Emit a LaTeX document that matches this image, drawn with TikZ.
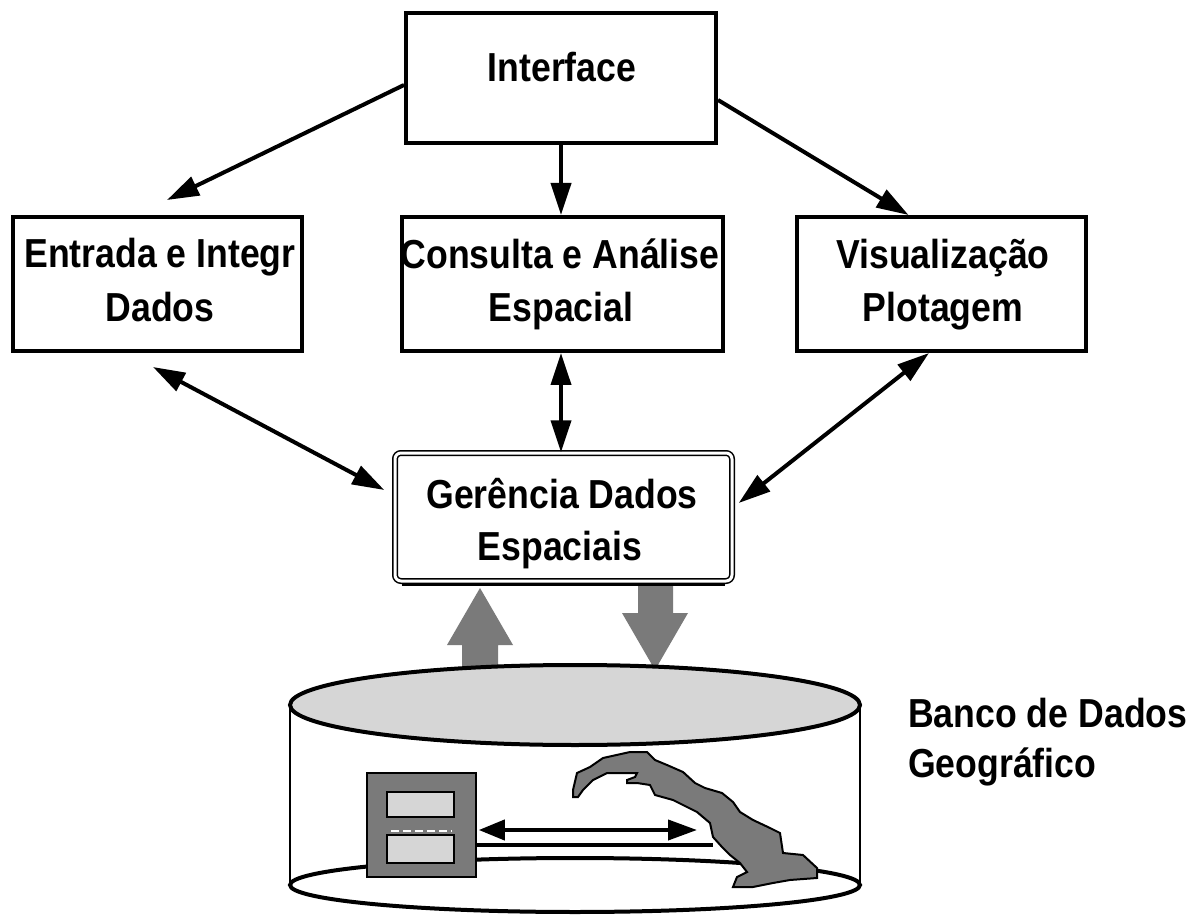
\documentclass[tikz,border=0pt]{standalone}
\usepackage{fontspec}
\newfontfamily\lblfont{Liberation Sans}[FakeStretch=0.88]
\usetikzlibrary{arrows.meta}
\begin{document}
\begin{tikzpicture}[x=1pt,y=-1pt,
  box/.style={draw,line width=4pt,inner sep=0pt},
  txt/.style={font=\lblfont\bfseries\fontsize{40.5}{53}\selectfont,anchor=base,inner sep=0pt},
  arr/.style={line width=4pt,-{Triangle[length=32pt,width=20pt]}},
  darr/.style={line width=4pt,{Triangle[length=32pt,width=20pt]}-{Triangle[length=32pt,width=20pt]}},
  darkfill/.style={fill=black!52},
  lightfill/.style={fill=black!16}]
\useasboundingbox (0,0) rectangle (1200,917);
\fill[white] (0,0) rectangle (1200,917);

% boxes
\node[box,minimum width=310pt,minimum height=130pt] (iface) at (561,78) {};
\node[box,minimum width=289pt,minimum height=134pt] (entrada) at (157.5,284) {};
\node[box,minimum width=321pt,minimum height=134pt] (consulta) at (562.5,284) {};
\node[box,minimum width=289pt,minimum height=134pt] (visu) at (941.5,284) {};
\node[draw,double=white,double distance=3pt,line width=1.5pt,rounded corners=6pt,
      minimum width=337pt,minimum height=128pt] (ger) at (563.5,517) {};
\draw[line width=3pt] ([xshift=8pt,yshift=-3pt]ger.south west) -- ([xshift=-8pt,yshift=-3pt]ger.south east);

% texts
\node[txt] (ifaceT) at (562,82) {Interface};
\node[txt] (entT1) at (160,268) {Entrada e Integr};
\node[txt] (entT2) at (160,322) {Dados};
\node[txt] (conT1) at (560,269) {Consulta e Análise};
\node[txt] (conT2) at (561,322) {Espacial};
\node[txt] (visT1) at (943,269) {Visualização};
\node[txt] (visT2) at (943,322) {Plotagem};
\node[txt] (gerT1) at (562,508) {Gerência Dados};
\node[txt] (gerT2) at (560,560) {Espaciais};
\node[txt,anchor=base west] (bdT1) at (908,727) {Banco de Dados};
\node[txt,anchor=base west] (bdT2) at (908,777) {Geográfico};

% connectors
\draw[arr] ([yshift=-7pt]iface.west) -- ([xshift=9.5pt,yshift=15pt]entrada.north);
\draw[arr] (iface.south) -- (iface.south |- consulta.north);
\draw[arr] ([yshift=-22pt]iface.east) -- ([xshift=-33pt]visu.north);
\draw[darr] ([xshift=-4.5pt,yshift=-14pt]entrada.south) -- ([xshift=-10pt,yshift=27pt]ger.west);
\draw[darr] (iface.south |- consulta.south) -- (iface.south |- ger.north);
\draw[darr] ([xshift=-12.5pt]visu.south) -- ([xshift=6pt,yshift=14pt]ger.east);

% cylinder sides and bottom
\draw[line width=2pt] (290,705) -- (290,885);
\draw[line width=2pt] (860,705) -- (860,885);
\draw[line width=4pt,fill=white] (575,885) ellipse [x radius=285, y radius=27];

% database icon
\node[draw,line width=1.5pt,darkfill,minimum width=109pt,minimum height=104pt,inner sep=0pt] (icon) at (421.5,825) {};
\node[draw,line width=1.5pt,lightfill,minimum width=67pt,minimum height=25pt,inner sep=0pt] (rec1) at (420.5,804.5) {};
\node[draw,line width=1.5pt,lightfill,minimum width=67pt,minimum height=28pt,inner sep=0pt] (rec2) at (420.5,849) {};
\draw[white,line width=2pt,dash pattern=on 8pt off 4pt] (391,831) -- (452,831);

% map
\draw[line width=2pt,darkfill] (573,790) -- (577,773) -- (590,767) -- (603,758) -- (630,752) -- (647,752)
  -- (655,760) -- (667,765) -- (683,772) -- (695,783) -- (705,788) -- (722,793) -- (733,802)
  -- (740,812) -- (753,820) -- (770,828) -- (780,833) -- (783,853) -- (803,855) -- (817,868)
  -- (817,878) -- (790,880) -- (773,883) -- (753,887) -- (733,887) -- (737,877) -- (747,872)
  -- (740,863) -- (730,855) -- (722,847) -- (713,837) -- (710,823) -- (697,812) -- (673,800)
  -- (655,795) -- (650,785) -- (637,783) -- (627,783) -- (627,780) -- (635,777) -- (637,773)
  -- (620,773) -- (607,773) -- (593,780) -- (583,790) -- (578,797) -- (573,797) -- cycle;
\coordinate (mapA) at (697,830);
\coordinate (mapB) at (713,845);

% arrows inside cylinder
\draw[line width=4pt,{Triangle[length=26pt,width=20pt]}-{Triangle[length=29pt,width=20pt]}]
  ([xshift=2pt,yshift=-5pt]icon.east) -- (mapA);
\draw[line width=4pt] ([yshift=-20pt]icon.east) -- (mapB);

% big shaded arrows
\fill[darkfill] (462,668) -- (462,645) -- (447,645) -- (480,588) -- (513,645) -- (498,645) -- (498,668) -- cycle;
\fill[darkfill] (638,586) -- (638,613) -- (622,613) -- (655,670) -- (688,613) -- (673,613) -- (673,586) -- cycle;

% top of cylinder
\draw[line width=4pt,lightfill] (575,705) ellipse [x radius=285, y radius=40];
\end{tikzpicture}
\end{document}
